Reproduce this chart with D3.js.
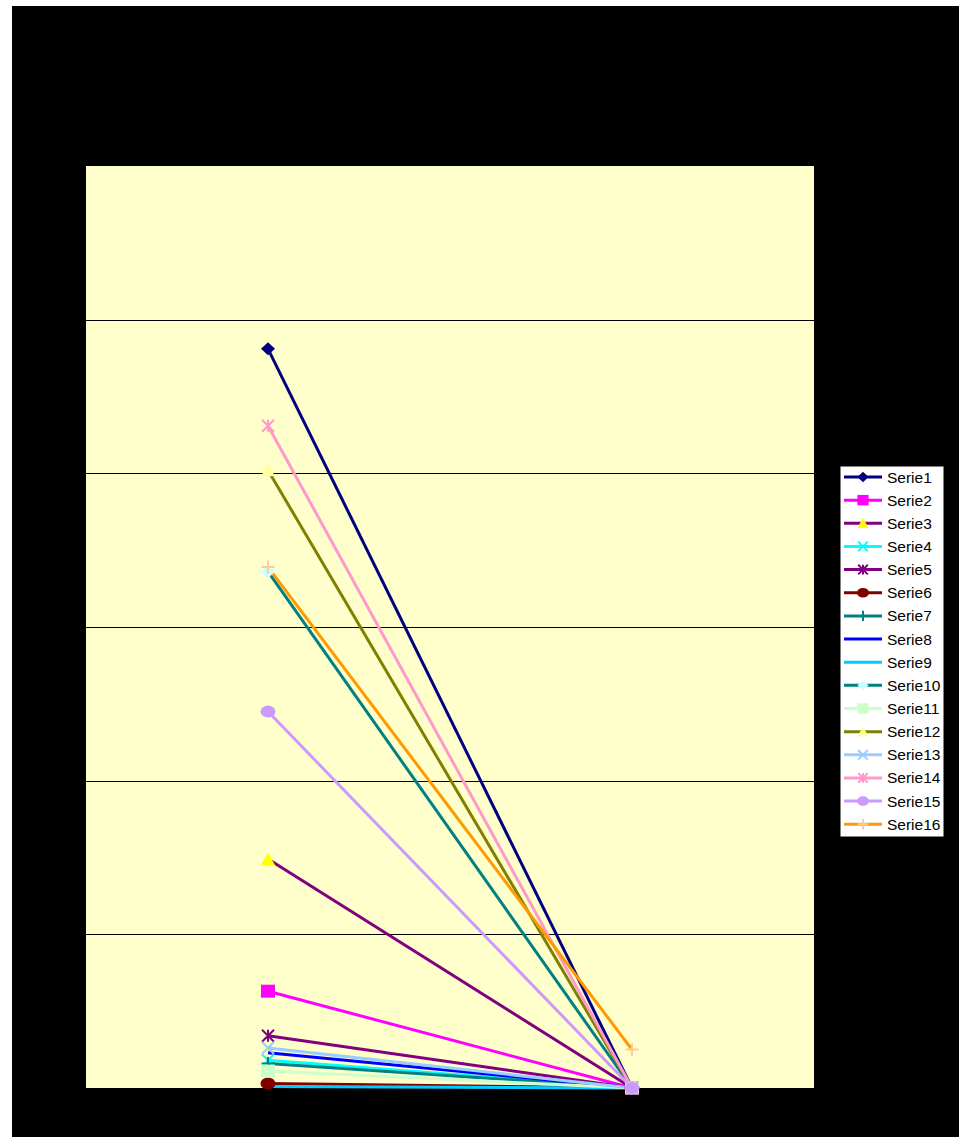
<!DOCTYPE html>
<html>
<head>
<meta charset="utf-8">
<script src="https://cdn.jsdelivr.net/npm/d3@7"></script>
<style>
  html, body { margin: 0; padding: 0; background: #ffffff; }
  svg { display: block; }
</style>
</head>
<body>
<svg id="chart" width="959" height="1137"></svg>
<script>
// Category axis
const categories = ["1", "2"];

// Series names, in legend order
const seriesNames = [
  "Serie1", "Serie2", "Serie3", "Serie4", "Serie5", "Serie6", "Serie7", "Serie8",
  "Serie9", "Serie10", "Serie11", "Serie12", "Serie13", "Serie14", "Serie15", "Serie16"
];

// Values at the first category
const firstValues = [48.1, 6.3, 14.9, 1.8, 3.4, 0.3, 1.6, 2.3, 0.1, 33.6, 1.1, 40.2, 2.6, 43.1, 24.5, 33.9];

// Values at the second category
const secondValues = [0, 0, 0, 0, 0, 0, 0, 0, 0, 0, 0, 0, 0, 0, 0, 2.5];

// Value axis ticks (gridlines)
const yTicks = [0, 10, 20, 30, 40, 50, 60];

// Series styling
const lineColors = [
  "#000080", "#FF00FF", "#800080", "#00FFFF", "#800080", "#800000", "#008080", "#0000FF",
  "#00CCFF", "#008080", "#CCFFCC", "#808000", "#99CCFF", "#FF99CC", "#CC99FF", "#FF9900"
];
const markerColors = [
  "#000080", "#FF00FF", "#FFFF00", "#00FFFF", "#800080", "#800000", "#008080", "#0000FF",
  "#00CCFF", "#CCFFFF", "#CCFFCC", "#FFFF99", "#99CCFF", "#FF99CC", "#CC99FF", "#FFCC99"
];
const markerShapes = [
  "diamond", "square", "triangle", "x", "star", "circle", "plus", "none",
  "none", "diamond", "square", "triangle", "x", "star", "circle", "plus"
];

const svg = d3.select("#chart");
const W = 959, H = 1137;

// Outer chart area
svg.append("rect").attr("x", 12).attr("y", 6).attr("width", W - 12).attr("height", H - 6).attr("fill", "#000");

const plot = { left: 86, right: 814, top: 166, bottom: 1088 };

svg.append("rect")
  .attr("x", plot.left).attr("y", plot.top)
  .attr("width", plot.right - plot.left).attr("height", plot.bottom - plot.top)
  .attr("fill", "#FFFFCC");

const x = d3.scalePoint().domain(categories).range([plot.left, plot.right]).padding(0.5);
const y = d3.scaleLinear().domain([0, 60]).range([plot.bottom, plot.top]);

// Horizontal gridlines
const grid = svg.append("g")
  .attr("transform", `translate(${plot.left},0)`)
  .call(d3.axisLeft(y).tickValues(yTicks.filter(t => t > 0 && t < 60)).tickSize(-(plot.right - plot.left)).tickFormat(""));
grid.select(".domain").remove();
grid.selectAll(".tick line").attr("stroke", "#000").attr("stroke-width", 1).attr("shape-rendering", "crispEdges");

const data = seriesNames.map((name, i) => ({
  name,
  i,
  points: [
    { cat: categories[0], v: firstValues[i] },
    { cat: categories[1], v: secondValues[i] }
  ]
}));

const line = d3.line().x(d => x(d.cat)).y(d => y(d.v));

// Lines
svg.append("g").selectAll("path")
  .data(data)
  .join("path")
  .attr("d", d => line(d.points))
  .attr("fill", "none")
  .attr("stroke", d => lineColors[d.i])
  .attr("stroke-width", 3);

// Marker drawing
function drawMarker(g, shape, color, s) {
  const w = 7 * s, h = 6.5 * s;
  if (shape === "diamond") {
    g.append("path").attr("d", `M0,${-h}L${w},0L0,${h}L${-w},0Z`).attr("fill", color);
  } else if (shape === "square") {
    g.append("rect").attr("x", -w).attr("y", -h).attr("width", 2 * w).attr("height", 2 * h).attr("fill", color);
  } else if (shape === "triangle") {
    g.append("path").attr("d", `M0,${-h}L${w},${h - 0.5 * s}L${-w},${h - 0.5 * s}Z`).attr("fill", color);
  } else if (shape === "circle") {
    g.append("ellipse").attr("rx", w + 0.5 * s).attr("ry", h - 0.5 * s).attr("fill", color);
  } else if (shape === "x" || shape === "star") {
    const a = 6 * s;
    g.append("path").attr("d", `M${-a},${-a}L${a},${a}M${-a},${a}L${a},${-a}`)
      .attr("stroke", color).attr("stroke-width", 2 * Math.min(1, s + 0.2)).attr("fill", "none");
    if (shape === "star") {
      g.append("path").attr("d", `M0,${-a}L0,${a}`).attr("stroke", color).attr("stroke-width", 2 * Math.min(1, s + 0.2));
    }
  } else if (shape === "plus") {
    const a = 6.5 * s;
    g.append("path").attr("d", `M${-a},0L${a},0M0,${-a}L0,${a}`)
      .attr("stroke", color).attr("stroke-width", 2 * Math.min(1, s + 0.2)).attr("fill", "none");
  }
}

// Markers
const markerLayer = svg.append("g");
data.forEach(d => {
  if (markerShapes[d.i] === "none") return;
  d.points.forEach(p => {
    const g = markerLayer.append("g").attr("transform", `translate(${x(p.cat)},${y(p.v)})`);
    drawMarker(g, markerShapes[d.i], markerColors[d.i], 1);
  });
});

// Legend
const legend = { x: 840, y: 466, w: 104, rowH: 23.15, firstRow: 477 };
svg.append("rect")
  .attr("x", legend.x).attr("y", legend.y)
  .attr("width", legend.w).attr("height", 371)
  .attr("fill", "#fff").attr("stroke", "#000").attr("stroke-width", 1);

const rows = svg.append("g").selectAll("g")
  .data(data)
  .join("g")
  .attr("transform", d => `translate(0,${legend.firstRow + d.i * legend.rowH})`);

rows.append("line")
  .attr("x1", 844).attr("x2", 882).attr("y1", 0).attr("y2", 0)
  .attr("stroke", d => lineColors[d.i]).attr("stroke-width", 3);

rows.each(function (d) {
  if (markerShapes[d.i] === "none") return;
  const g = d3.select(this).append("g").attr("transform", "translate(863,0)");
  drawMarker(g, markerShapes[d.i], markerColors[d.i], 0.8);
});

rows.append("text")
  .attr("x", 887).attr("y", 5.5)
  .attr("font-family", "Liberation Sans, Arial, sans-serif")
  .attr("font-size", 15.5)
  .attr("fill", "#000")
  .text(d => d.name);
</script>
</body>
</html>
